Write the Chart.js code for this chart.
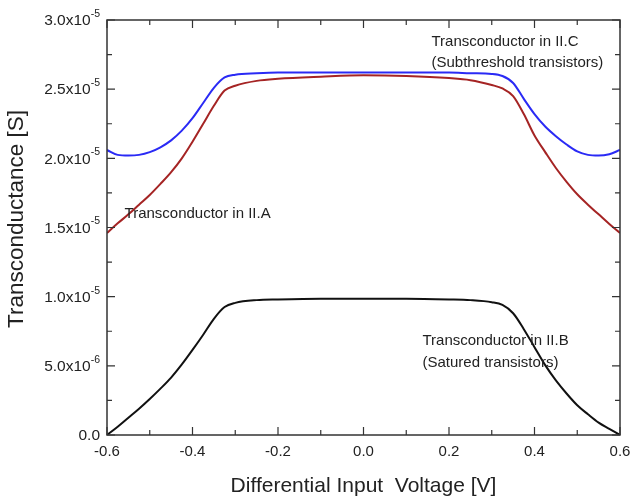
<!DOCTYPE html>
<html>
<head>
<meta charset="utf-8">
<script src="https://cdn.jsdelivr.net/npm/chart.js@4.4.0/dist/chart.umd.min.js"></script>
<style>
  html, body { margin: 0; padding: 0; background: #fff; }
  #wrap { width: 630px; height: 499px; }
</style>
</head>
<body>
<div id="wrap"><canvas id="myChart" width="630" height="499"></canvas></div>
<script>
// datos (transconductancia en unidades de 1e-5 S)
const voltage = [-0.6, -0.575, -0.55, -0.525, -0.5, -0.475, -0.45, -0.425, -0.4, -0.375, -0.35, -0.325, -0.3,
  -0.25, -0.2, -0.1, 0, 0.1, 0.2, 0.25,
  0.3, 0.325, 0.35, 0.375, 0.4, 0.425, 0.45, 0.475, 0.5, 0.525, 0.55, 0.575, 0.6];

// Transconductor in II.C (azul)
const gmIIC = [2.06, 2.025, 2.02, 2.025, 2.045, 2.08, 2.13, 2.20, 2.29, 2.40, 2.51, 2.585, 2.605,
  2.615, 2.62, 2.62, 2.62, 2.62, 2.62, 2.615,
  2.61, 2.595, 2.545, 2.43, 2.32, 2.23, 2.16, 2.10, 2.05, 2.025, 2.02, 2.03, 2.06];

// Transconductor in II.A (rojo)
const gmIIA = [1.46, 1.53, 1.595, 1.665, 1.735, 1.815, 1.90, 2.00, 2.12, 2.25, 2.38, 2.49, 2.525,
  2.56, 2.575, 2.59, 2.60, 2.595, 2.58, 2.565,
  2.53, 2.505, 2.45, 2.32, 2.165, 2.045, 1.93, 1.83, 1.74, 1.665, 1.595, 1.525, 1.46];

// Transconductor in II.B (negro)
const gmIIB = [0, 0.06, 0.125, 0.19, 0.26, 0.335, 0.415, 0.51, 0.615, 0.725, 0.84, 0.925, 0.955,
  0.975, 0.98, 0.985, 0.985, 0.985, 0.98, 0.975,
  0.96, 0.94, 0.88, 0.765, 0.635, 0.505, 0.395, 0.30, 0.215, 0.15, 0.09, 0.045, 0];

const xTickValues = [-0.6, -0.4, -0.2, 0, 0.2, 0.4, 0.6];
const xTickLabels = ['-0.6', '-0.4', '-0.2', '0.0', '0.2', '0.4', '0.6'];
const xMinorValues = [-0.5, -0.3, -0.1, 0.1, 0.3, 0.5];

const yTickValues = [0, 0.5e-5, 1.0e-5, 1.5e-5, 2.0e-5, 2.5e-5, 3.0e-5];
const yTickLabels = ['0.0', '5.0x10', '1.0x10', '1.5x10', '2.0x10', '2.5x10', '3.0x10'];
const yTickExponents = ['', '-6', '-5', '-5', '-5', '-5', '-5'];
const yMinorValues = [0.25e-5, 0.75e-5, 1.25e-5, 1.75e-5, 2.25e-5, 2.75e-5];

// textos dentro del grafico (posicion en unidades de datos)
const notes = [
  { text: 'Transconductor in II.C', x: 0.159, y: 2.84e-5 },
  { text: '(Subthreshold transistors)', x: 0.159, y: 2.69e-5 },
  { text: 'Transconductor in II.A', x: -0.559, y: 1.60e-5 },
  { text: 'Transconductor in II.B', x: 0.138, y: 0.683e-5 },
  { text: '(Satured transistors)', x: 0.138, y: 0.524e-5 }
];

const yTitle = 'Transconductance [S]';

const FONT = '"Liberation Sans", Arial, sans-serif';
const TEXT = '#222';

const toPoints = serie => voltage.map((v, i) => ({ x: v, y: serie[i] * 1e-5 }));

// marco, ticks hacia dentro, etiquetas del eje y y notas
const framePlugin = {
  id: 'frame',
  afterDraw(chart) {
    const ctx = chart.ctx;
    const a = chart.chartArea;
    const xs = chart.scales.x;
    const ys = chart.scales.y;
    ctx.save();
    ctx.strokeStyle = '#333';
    ctx.lineWidth = 1.5;
    ctx.strokeRect(a.left, a.top, a.right - a.left, a.bottom - a.top);

    ctx.lineWidth = 1.2;
    ctx.beginPath();
    const xTick = (v, len) => {
      const px = xs.getPixelForValue(v);
      ctx.moveTo(px, a.bottom); ctx.lineTo(px, a.bottom - len);
      ctx.moveTo(px, a.top); ctx.lineTo(px, a.top + len);
    };
    const yTick = (v, len) => {
      const py = ys.getPixelForValue(v);
      ctx.moveTo(a.left, py); ctx.lineTo(a.left + len, py);
      ctx.moveTo(a.right, py); ctx.lineTo(a.right - len, py);
    };
    xTickValues.forEach(v => xTick(v, 8));
    xMinorValues.forEach(v => xTick(v, 5));
    yTickValues.forEach(v => yTick(v, 8));
    yMinorValues.forEach(v => yTick(v, 5));
    ctx.stroke();

    // etiquetas y con exponente
    ctx.fillStyle = TEXT;
    ctx.textBaseline = 'middle';
    const rightEdge = a.left - 7;
    yTickValues.forEach((v, i) => {
      const py = ys.getPixelForValue(v);
      ctx.font = '10.5px ' + FONT;
      const sup = yTickExponents[i];
      const supW = sup ? ctx.measureText(sup).width : 0;
      if (sup) {
        ctx.textAlign = 'left';
        ctx.fillText(sup, rightEdge - supW, py - 6);
      }
      ctx.font = '15.5px ' + FONT;
      ctx.textAlign = 'right';
      ctx.fillText(yTickLabels[i], rightEdge - supW, py + 1);
    });

    // titulo del eje y
    ctx.save();
    ctx.translate(17, 219);
    ctx.rotate(-Math.PI / 2);
    ctx.font = '22.5px ' + FONT;
    ctx.textAlign = 'center';
    ctx.fillText(yTitle, 0, 0);
    ctx.restore();

    ctx.font = '15px ' + FONT;
    ctx.textAlign = 'left';
    notes.forEach(n => {
      ctx.fillText(n.text, xs.getPixelForValue(n.x), ys.getPixelForValue(n.y));
    });
    ctx.restore();
  }
};

const ctx = document.getElementById('myChart').getContext('2d');

const chart = new Chart(ctx, {
  type: 'line',
  data: {
    datasets: [
      { label: 'II.C', data: toPoints(gmIIC), borderColor: '#2a2af5', borderWidth: 2 },
      { label: 'II.A', data: toPoints(gmIIA), borderColor: '#a52424', borderWidth: 2 },
      { label: 'II.B', data: toPoints(gmIIB), borderColor: '#111', borderWidth: 2 }
    ]
  },
  options: {
    responsive: false,
    animation: false,
    layout: { padding: { top: 20, right: 10, left: 0, bottom: 0 } },
    elements: {
      point: { radius: 0 },
      line: { cubicInterpolationMode: 'monotone', fill: false }
    },
    plugins: {
      legend: { display: false },
      tooltip: { enabled: false }
    },
    scales: {
      x: {
        type: 'linear',
        min: -0.6,
        max: 0.6,
        grid: { display: false, drawTicks: false },
        border: { display: false },
        afterBuildTicks: s => { s.ticks = xTickValues.map(v => ({ value: v })); },
        afterFit: s => { s.height = 64; s.paddingLeft = 0; s.paddingRight = 0; },
        ticks: {
          padding: 8,
          color: TEXT,
          font: { family: FONT, size: 15 },
          callback: (v, i) => xTickLabels[i]
        },
        title: {
          display: true,
          text: 'Differential Input  Voltage [V]',
          color: TEXT,
          font: { family: FONT, size: 21 },
          padding: { top: 0, bottom: 0 }
        }
      },
      y: {
        type: 'linear',
        min: 0,
        max: 3e-5,
        grid: { display: false, drawTicks: false },
        border: { display: false },
        ticks: { display: false },
        afterFit: s => { s.width = 107; s.paddingTop = 0; s.paddingBottom = 0; },
        title: { display: false }
      }
    }
  },
  plugins: [framePlugin]
});
</script>
</body>
</html>
